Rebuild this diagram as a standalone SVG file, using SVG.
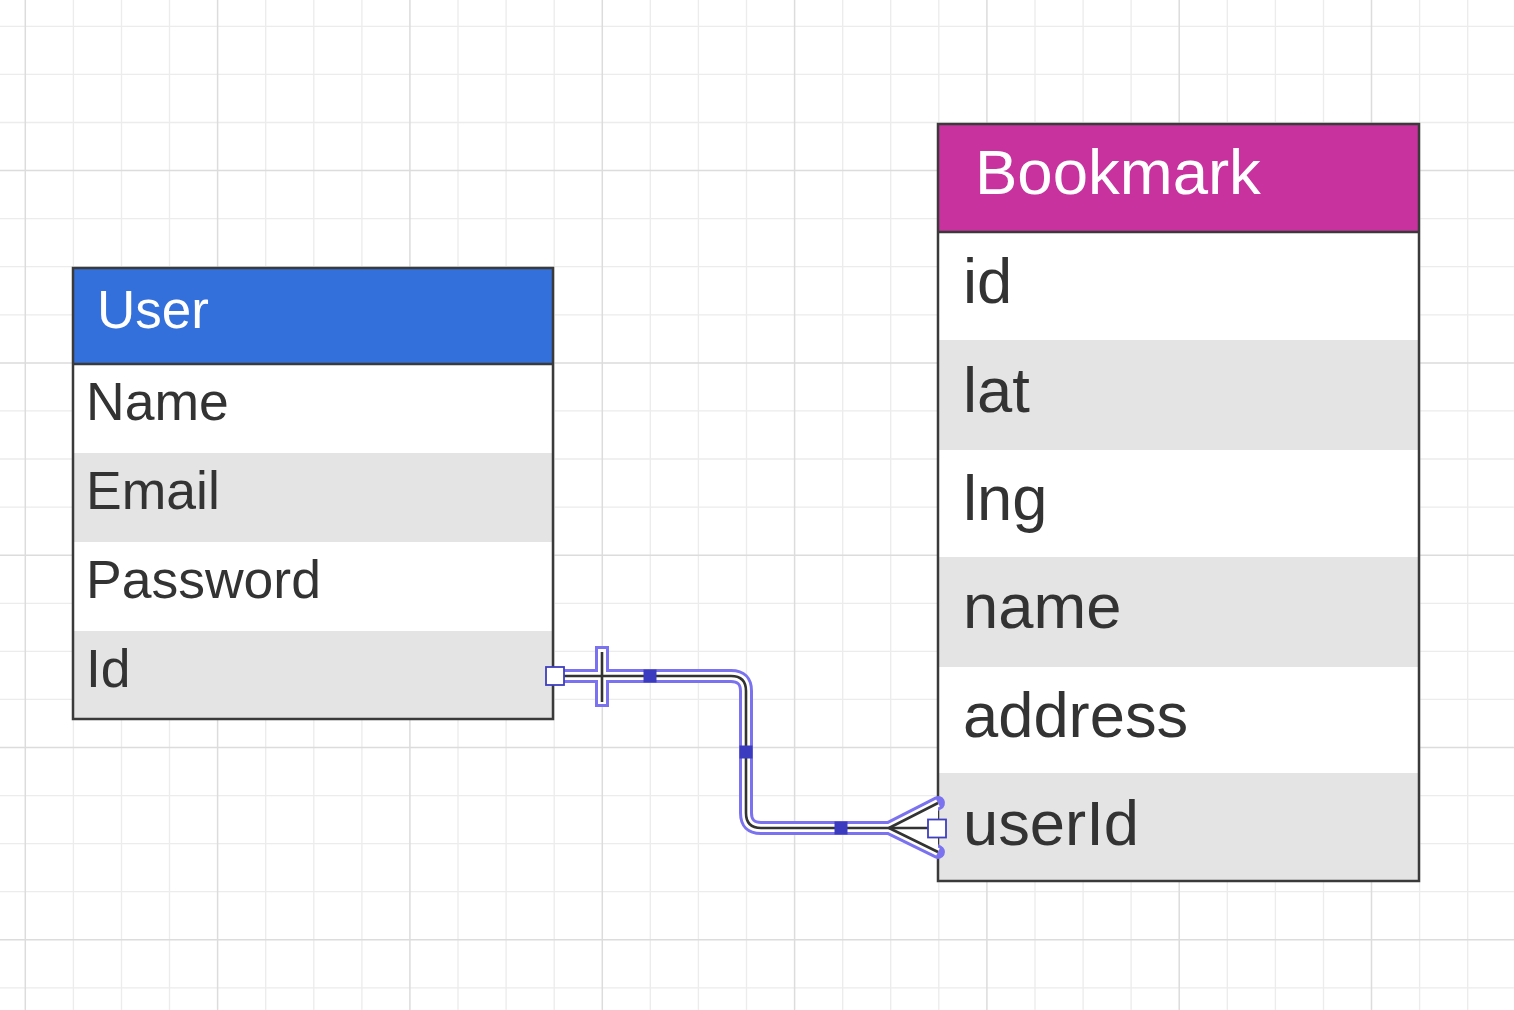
<svg xmlns="http://www.w3.org/2000/svg" width="1514" height="1010" viewBox="0 0 1514 1010">
<style>
.minor{stroke:#ececec;stroke-width:1.3;fill:none}
.major{stroke:#dcdcdc;stroke-width:1.5;fill:none}
.border{fill:none;stroke:#3a3a3a;stroke-width:2.5}
.rowtxt{font-family:"Liberation Sans",Arial,sans-serif;fill:#333333}
.hdrtxt{font-family:"Liberation Sans",Arial,sans-serif;fill:#ffffff}
.alt{fill:#e4e4e4}
.halo{fill:none;stroke:#7b72f0;stroke-width:14;stroke-linejoin:round}
.gap{fill:none;stroke:#ffffff;stroke-width:8;stroke-linejoin:round}
.line{fill:none;stroke:#333333;stroke-width:2.6;stroke-linejoin:round}
.handle{fill:#ffffff;stroke:#3f3fbf;stroke-width:1.8}
.mid{fill:#3b3bbf}
</style>
<rect width="1514" height="1010" fill="#ffffff"/>
<g id="grid">
<path class="minor" d="M73.4 0V1010M121.5 0V1010M169.5 0V1010M265.7 0V1010M313.8 0V1010M361.9 0V1010M458 0V1010M506.1 0V1010M554.2 0V1010M650.3 0V1010M698.4 0V1010M746.5 0V1010M842.7 0V1010M890.7 0V1010M938.8 0V1010M1035 0V1010M1083.1 0V1010M1131.1 0V1010M1227.3 0V1010M1275.4 0V1010M1323.5 0V1010M1419.6 0V1010M1467.7 0V1010
M0 26.3H1514M0 74.4H1514M0 122.5H1514M0 218.6H1514M0 266.7H1514M0 314.8H1514M0 410.9H1514M0 459H1514M0 507.1H1514M0 603.3H1514M0 651.3H1514M0 699.4H1514M0 795.6H1514M0 843.7H1514M0 891.7H1514M0 987.9H1514"/>
<path class="major" d="M25.3 0V1010M217.6 0V1010M409.9 0V1010M602.3 0V1010M794.6 0V1010M986.9 0V1010M1179.2 0V1010M1371.5 0V1010M0 170.5H1514M0 362.9H1514M0 555.2H1514M0 747.5H1514M0 939.8H1514"/>
</g>
<g id="user">
<rect x="73" y="268" width="480" height="96" fill="#3370db"/>
<rect x="73" y="364" width="480" height="89" fill="#ffffff"/>
<rect class="alt" x="73" y="453" width="480" height="89"/>
<rect x="73" y="542" width="480" height="89" fill="#ffffff"/>
<rect class="alt" x="73" y="631" width="480" height="88"/>
<line x1="73" y1="364" x2="553" y2="364" stroke="#3a3a3a" stroke-width="2.5"/>
<rect class="border" x="73" y="268" width="480" height="451"/>
<text class="hdrtxt" x="97" y="327.5" font-size="53">User</text>
<text class="rowtxt" x="86" y="420" font-size="53.5">Name</text>
<text class="rowtxt" x="86" y="508.5" font-size="53.5">Email</text>
<text class="rowtxt" x="86" y="597.5" font-size="53.5">Password</text>
<text class="rowtxt" x="86" y="686.5" font-size="53.5">Id</text>
</g>
<g id="bookmark">
<rect x="938" y="124" width="481" height="108" fill="#c7329f"/>
<rect x="938" y="232" width="481" height="108" fill="#ffffff"/>
<rect class="alt" x="938" y="340" width="481" height="110"/>
<rect x="938" y="450" width="481" height="107" fill="#ffffff"/>
<rect class="alt" x="938" y="557" width="481" height="110"/>
<rect x="938" y="667" width="481" height="106" fill="#ffffff"/>
<rect class="alt" x="938" y="773" width="481" height="108"/>
<line x1="938" y1="232" x2="1419" y2="232" stroke="#3a3a3a" stroke-width="2.5"/>
<rect class="border" x="938" y="124" width="481" height="757"/>
<text class="hdrtxt" x="975" y="193.5" font-size="63.5">Bookmark</text>
<text class="rowtxt" x="963" y="303" font-size="63.3">id</text>
<text class="rowtxt" x="963" y="412" font-size="63.3">lat</text>
<text class="rowtxt" x="963" y="520" font-size="63.3">lng</text>
<text class="rowtxt" x="963" y="628" font-size="63.3">name</text>
<text class="rowtxt" x="963" y="737" font-size="63.3">address</text>
<text class="rowtxt" x="963" y="845" font-size="63.3">userId</text>
</g>
<g id="connectors">
<g class="halo">
<path d="M555 676H731Q746 676 746 691V813Q746 828 761 828H889"/>
<path d="M602 653V700" stroke-linecap="square"/>
<path d="M938 803L889 828L938 852" fill="#ffffff" stroke-linecap="round"/>
</g>
<g class="gap">
<path d="M555 676H731Q746 676 746 691V813Q746 828 761 828H889"/>
<path d="M602 653V700" stroke-linecap="square"/>
<path d="M938 803L889 828L938 852" fill="#ffffff"/>
</g>
<g class="line">
<path d="M555 676H731Q746 676 746 691V813Q746 828 761 828H938"/>
<path d="M602 652V702"/>
<path d="M938 803L889 828L938 852"/>
</g>
<rect class="mid" x="643.5" y="669.5" width="13" height="13"/>
<rect class="mid" x="739.5" y="745.5" width="13" height="13"/>
<rect class="mid" x="834.5" y="821.5" width="13" height="13"/>
<rect class="handle" x="546" y="667" width="18" height="18"/>
<rect class="handle" x="928" y="819.5" width="18" height="18"/>
</g>
</svg>
